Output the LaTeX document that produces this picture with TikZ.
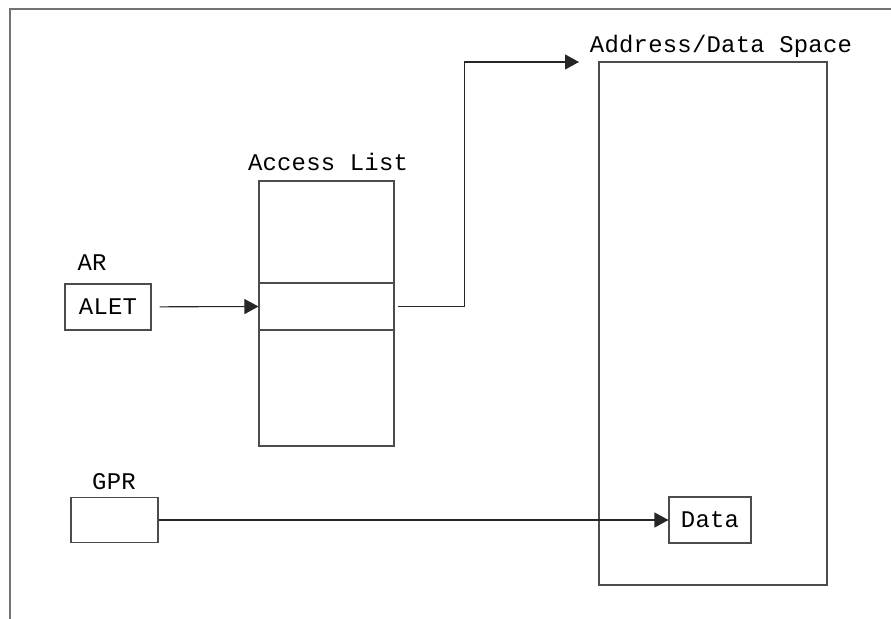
\documentclass[tikz,border=0pt]{standalone}
\usepackage{fontspec}
\setmonofont[LetterSpace=1]{Liberation Mono}
\usetikzlibrary{arrows.meta}

\begin{document}
\begin{tikzpicture}[x=1bp,y=-1bp,line join=miter,>={Triangle[length=14bp,width=15bp]},
    box/.style={draw=black!70,line width=1.1bp,inner sep=0pt,font=\fontsize{24}{26}\selectfont\ttfamily},
    lbl/.style={font=\fontsize{24}{26}\selectfont\ttfamily,inner sep=0pt,anchor=base},
    link/.style={draw=black!85,line width=1.1bp}]
    \useasboundingbox (0,0) rectangle (891,619);
    % page frame
    \draw[black!55,line width=2bp] (10,619) -- (10,9) -- (891,9);
    % boxes
    \node[box,minimum width=86bp,minimum height=46bp] (alet) at (108,307) {ALET};
    \node[box,minimum width=135bp,minimum height=265bp] (alist) at (326.5,313.5) {};
    \node[box,minimum width=135bp,minimum height=47bp] (entry) at (326.5,306.5) {};
    \node[box,minimum width=228bp,minimum height=523bp] (space) at (713,323.5) {};
    \node[box,minimum width=87bp,minimum height=45bp] (gpr) at (114.5,520) {};
    \node[box,minimum width=82bp,minimum height=46bp] (data) at (710,520) {Data};
    \coordinate (spacein) at (579,62);
    % labels
    \node[lbl] (arlbl) at (92,270) {AR};
    \node[lbl] (alistlbl) at (328,171) {Access List};
    \node[lbl] (spacelbl) at (721,53) {Address/Data Space};
    \node[lbl] (gprlbl) at (114,489) {GPR};
    % connectors
    \draw[link,->,shorten <=8bp] (alet) -- (entry.west);
    \draw[link,->,shorten <=3bp] (entry.east) -- ++(70,0) |- (spacein);
    \draw[link,->] (gpr) -- (data);
\end{tikzpicture}
\end{document}
